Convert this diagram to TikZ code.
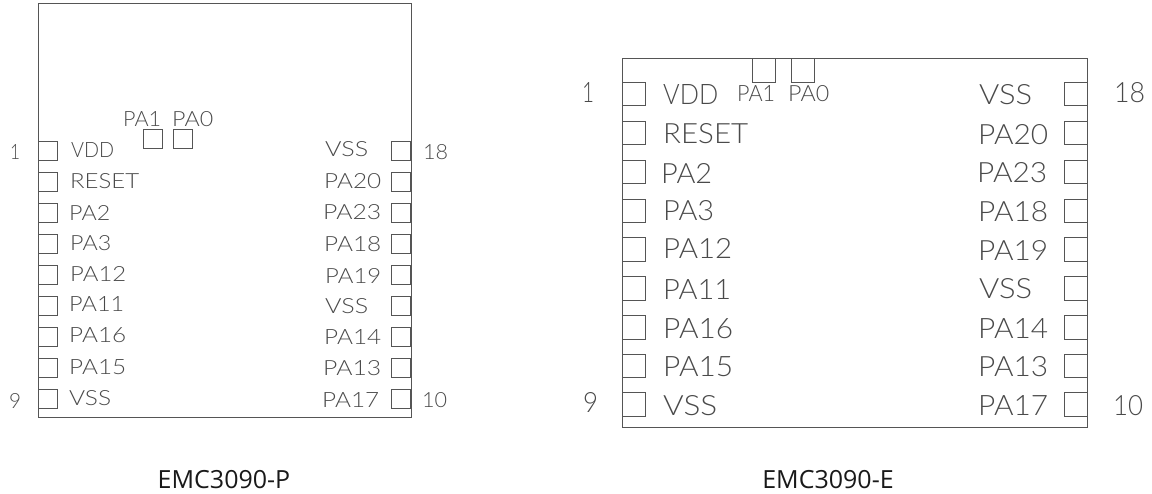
\documentclass[tikz,border=0pt]{standalone}
\usepackage{graphicx}
\usepackage{fontspec}
\setmainfont{Liberation Sans}
\newfontfamily\capfont{Open Sans}
\newfontfamily\cadfont{Lato Light}
\definecolor{ink}{HTML}{4A4A4A}
\definecolor{pen}{HTML}{555555}
\newcommand{\fitlab}[3]{\resizebox{#1pt}{#2pt}{#3}}
\tikzset{
  x=1pt,y=-1pt,
  chip/.style={draw=pen,line width=1pt,rectangle,inner sep=0pt},
  pad/.style={draw=pen,line width=1pt,rectangle,inner sep=0pt,minimum width=19pt,minimum height=19pt},
  padb/.style={pad,minimum width=23pt,minimum height=23.5pt},
  lab/.style={anchor=base west,inner sep=0pt,text=ink,font=\cadfont\fontsize{21}{21}\selectfont},
  caption/.style={anchor=base,inner sep=0pt,text=black!90,font=\capfont\fontsize{25}{25}\selectfont}
}
\begin{document}
\begin{tikzpicture}
\useasboundingbox (0,0) rectangle (1152,494);
% left chip
\node[chip,minimum width=373pt,minimum height=414pt] (bodyP) at (224.5,211) {};
\foreach \n/\y in {1/151.5,2/182.5,3/213.5,4/244.5,5/275.5,6/306.5,7/337.5,8/368.5,9/399.5}{
  \node[pad] (pl\n) at (47.5,\y) {};
  \node[pad] (pr\n) at (401,\y) {};
}
\node[pad] (pt1) at (152.5,139) {};
\node[pad] (pt0) at (183,139) {};
\foreach \t/\x/\y/\w [count=\i] in {VDD/71/158/43,RESET/70/189/69,PA2/69/221/41,PA3/70/251/41,PA12/70/282/56,PA11/69/312/55,PA16/69/343/57,PA15/69/375/57,VSS/69/406/42,
 VSS/325/157/43,PA20/324/189/57,PA23/323/220/58,PA18/324/252/57,PA19/325/284/56,VSS/325/314/43,PA14/324/345/57,PA13/323/376/58,PA17/322/407/57,
 1/10/160/10,9/9/408/12,18/423/160/25,10/422/407/25,PA1/123/127/38,PA0/172/127/41}{
  \node[lab] (a\i) at (\x,\y) {\fitlab{\w}{15}{\t}};
}
% right chip
\node[chip,minimum width=465pt,minimum height=368pt] (bodyE) at (854.5,243) {};
\foreach \n/\y in {1/94,2/133,3/172,4/211,5/249.5,6/288.5,7/327.5,8/366,9/404.5}{
  \node[padb] (ql\n) at (633.5,\y) {};
  \node[padb] (qr\n) at (1075.5,\y) {};
}
\node[padb,minimum height=24pt] (qt1) at (764,71) {};
\node[padb,minimum height=24pt] (qt0) at (803,71) {};
\foreach \t/\x/\y/\w [count=\i] in {VDD/663/105/55,RESET/663/144/85,PA2/661/184/51,PA3/663/221/51,PA12/663/259/69,PA11/663/300/68,PA16/663/338/70,PA15/663/377/70,VSS/663/416/54,
 VSS/979/105/53,PA20/978/145/70,PA23/977/183/70,PA18/978/222/70,PA19/978/261/70,VSS/979/299/53,PA14/978/338/70,PA13/978/377/70,PA17/978/415/70,
 1/582/103/12,9/583/413/15,18/1114/103/31,10/1113/415/30}{
  \node[lab] (b\i) at (\x,\y) {\fitlab{\w}{20}{\t}};
}
\node[lab] (b23) at (737,102) {\fitlab{38}{16}{PA1}};
\node[lab] (b24) at (788,102) {\fitlab{41}{16}{PA0}};
\node[caption] (capP) at (224,488) {EMC3090-P};
\node[caption] (capE) at (828,488) {EMC3090-E};
\end{tikzpicture}
\end{document}
